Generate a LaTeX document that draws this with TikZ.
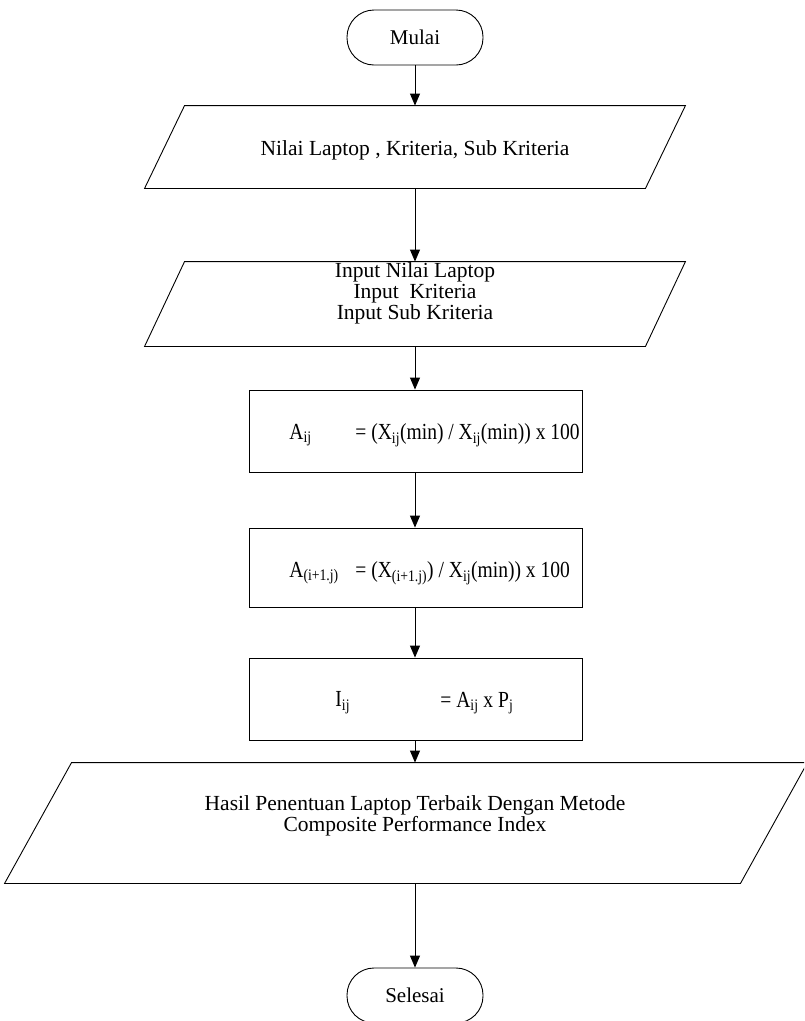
\documentclass[tikz,border=0pt]{standalone}
\usepackage{fontspec}
\setmainfont{Liberation Serif}
\newfontfamily\eqfont[FakeStretch=0.85]{Liberation Serif}
\usetikzlibrary{arrows.meta}
% outline of a data (input/output) block drawn around an invisible node
\newcommand\ioshape[2]{\draw ([xshift=#2]#1.north west) -- (#1.north east) -- ([xshift=-#2]#1.south east) -- (#1.south west) -- cycle;}
\begin{document}
\begin{tikzpicture}[x=1pt,y=-1pt,line width=0.9pt,
  txt/.style={font=\fontsize{21.5}{21}\selectfont, align=center, inner sep=0pt},
  eqtxt/.style={font=\eqfont\fontsize{23}{26}\selectfont, inner sep=0pt, anchor=west},
  terminal/.style={draw, rounded corners=27pt, minimum width=136pt, minimum height=55pt, inner sep=0pt, font=\fontsize{21}{24}\selectfont},
  procbox/.style={draw, minimum width=333pt, inner sep=0pt},
  ioframe/.style={inner sep=0pt},
  flow/.style={-{Triangle[length=12pt,width=10pt]}}]
\useasboundingbox (0,0) rectangle (804,1021);
\clip (0,0) rectangle (804,1021);

% start
\node[terminal] (mulai) at (415,37.5) {Mulai};

% first data block
\node[ioframe, minimum width=540pt, minimum height=82pt] (in1) at (415,147) {};
\ioshape{in1}{40pt}
\node[txt] (in1t) at (415,150) {Nilai Laptop , Kriteria, Sub Kriteria};

% second data block
\node[ioframe, minimum width=540pt, minimum height=84pt] (in2) at (415,304) {};
\ioshape{in2}{40pt}
\node[txt] (in2t) at (415,293) {Input Nilai Laptop\\Input \ Kriteria\\Input Sub Kriteria};

% process steps
\node[procbox, minimum height=82pt] (p1) at (415.5,431) {};
\node[eqtxt] (p1l) at (289,435) {A\textsubscript{ij}};
\node[eqtxt] (p1r) at (355,435) {= (X\textsubscript{ij}(min) / X\textsubscript{ij}(min)) x 100};

\node[procbox, minimum height=79pt] (p2) at (415.5,567.5) {};
\node[eqtxt] (p2l) at (289,573) {A\textsubscript{(i+1.j)}};
\node[eqtxt] (p2r) at (355,573) {= (X\textsubscript{(i+1.j)}) / X\textsubscript{ij}(min)) x 100};

\node[procbox, minimum height=82pt] (p3) at (415.5,699) {};
\node[eqtxt] (p3l) at (335,703) {I\textsubscript{ij}};
\node[eqtxt] (p3r) at (440,703) {= A\textsubscript{ij} x P\textsubscript{j}};

% result block
\node[ioframe, minimum width=802pt, minimum height=120pt] (out) at (406,823) {};
\ioshape{out}{67pt}
\node[txt] (outt) at (415,816) {Hasil Penentuan Laptop Terbaik Dengan Metode\\Composite Performance Index};

% end
\node[terminal] (selesai) at (415,995.5) {Selesai};

% connectors
\draw[flow] (mulai.south) -- (in1.north -| mulai.south);
\draw[flow] (in1.south -| mulai.south) -- (in2.north -| mulai.south);
\draw[flow] (in2.south -| mulai.south) -- (p1.north -| mulai.south);
\draw[flow] (p1.south -| mulai.south) -- (p2.north -| mulai.south);
\draw[flow] (p2.south -| mulai.south) -- (p3.north -| mulai.south);
\draw[flow] (p3.south -| mulai.south) -- (out.north -| mulai.south);
\draw[flow] (out.south -| mulai.south) -- (selesai.north);
\end{tikzpicture}
\end{document}
